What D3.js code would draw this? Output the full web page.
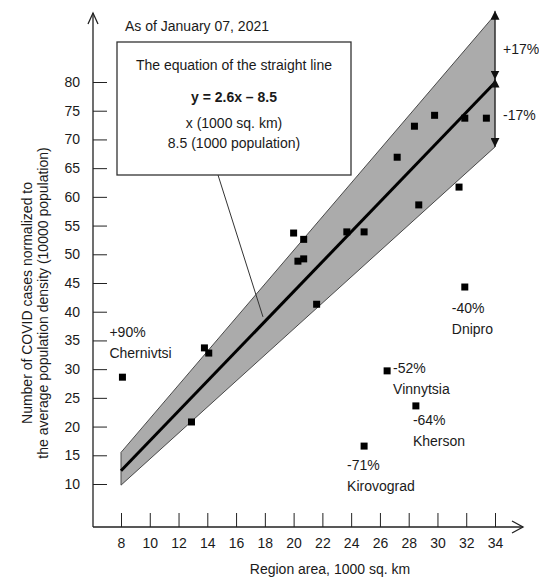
<!DOCTYPE html>
<html>
<head>
<meta charset="utf-8">
<script src="https://cdn.jsdelivr.net/npm/d3@7"></script>
<style>
  body { margin: 0; background: #fff; }
  text { font-family: "Liberation Sans", Arial, sans-serif; fill: #1a1a1a; }
</style>
</head>
<body>
<svg id="chart" width="539" height="583"></svg>
<script>
// Region area (1000 sq. km) and normalized COVID cases, one entry per region
const areas = [8.1, 12.9, 13.8, 14.1, 20.0, 20.7, 20.3, 20.7, 21.6, 23.7, 24.9,
  24.9, 26.5, 27.2, 28.4, 28.5, 28.7, 29.8, 31.5, 31.9, 31.9, 33.4];
const cases = [28.6, 20.8, 33.7, 32.8, 53.7, 52.6, 48.8, 49.2, 41.3, 53.9, 53.9,
  16.6, 29.7, 66.9, 72.3, 23.6, 58.6, 74.2, 61.7, 73.7, 44.3, 73.7];

// Labelled outliers (index into the arrays above)
const labelIndex = [0, 20, 12, 15, 11];
const labelPct = ['+90%', '-40%', '-52%', '-64%', '-71%'];
const labelName = ['Chernivtsi', 'Dnipro', 'Vinnytsia', 'Kherson', 'Kirovograd'];

// Fitted line y = 2.6x - 8.5 and the +-17% corridor
const slope = 2.6;
const intercept = -8.5;
const bandX = [8, 34];
const bandUpper = [15.5, 91.7];
const bandLower = [9.8, 68.7];
const bandPct = ['+17%', '-17%'];

const xTicks = [8, 10, 12, 14, 16, 18, 20, 22, 24, 26, 28, 30, 32, 34];
const yTicks = [10, 15, 20, 25, 30, 35, 40, 45, 50, 55, 60, 65, 70, 75, 80];

const svg = d3.select('#chart');

const frame = { left: 93, bottom: 527, top: 13, right: 523 };

const x = d3.scaleLinear().domain([8, 34]).range([121, 495]);
const y = d3.scaleLinear().domain([10, 80]).range([484, 82]);

// label offsets (pixels from the point)
const labelOffset = [
  { dx: -13, dy: -40 },
  { dx: -13, dy: 26 },
  { dx: 6, dy: 2 },
  { dx: -3, dy: 19 },
  { dx: -17, dy: 24 }
];

// arrow marker
const defs = svg.append('defs');
defs.append('marker')
  .attr('id', 'tri')
  .attr('viewBox', '0 0 10 10')
  .attr('refX', 10)
  .attr('refY', 5)
  .attr('markerWidth', 9)
  .attr('markerHeight', 9)
  .attr('markerUnits', 'userSpaceOnUse')
  .attr('orient', 'auto-start-reverse')
  .append('path')
  .attr('d', 'M0,0L10,5L0,10Z')
  .attr('fill', '#111');

// Corridor
const bandPts = [
  [x(bandX[0]), y(bandUpper[0])],
  [x(bandX[1]), y(bandUpper[1])],
  [x(bandX[1]), y(bandLower[1])],
  [x(bandX[0]), y(bandLower[0])]
];
svg.append('polygon')
  .attr('points', bandPts.map(p => p.join(',')).join(' '))
  .attr('fill', '#ababab')
  .attr('stroke', '#4a4a4a')
  .attr('stroke-width', 1);

// Fitted line
svg.append('line')
  .attr('x1', x(bandX[0])).attr('y1', y(slope * bandX[0] + intercept))
  .attr('x2', x(bandX[1])).attr('y2', y(slope * bandX[1] + intercept))
  .attr('stroke', '#000')
  .attr('stroke-width', 3);

// Corridor arrows
const xr = x(bandX[1]);
const yMid = y(slope * bandX[1] + intercept);
const arrows = [[y(bandUpper[1]), yMid], [yMid, y(bandLower[1])]];
arrows.forEach((a, i) => {
  svg.append('line')
    .attr('x1', xr).attr('y1', a[0] - 4)
    .attr('x2', xr).attr('y2', a[1] + (i === 0 ? -3 : 0))
    .attr('stroke', '#222')
    .attr('stroke-width', 1)
    .attr('marker-start', 'url(#tri)')
    .attr('marker-end', 'url(#tri)');
  svg.append('text')
    .attr('x', xr + 8)
    .attr('y', (a[0] + a[1]) / 2)
    .attr('dy', '0.35em')
    .style('font-size', '14px')
    .text(bandPct[i]);
});

// Axes
const yAxis = svg.append('g')
  .attr('transform', `translate(${frame.left},0)`)
  .call(d3.axisLeft(y).tickValues(yTicks).tickSize(-14).tickPadding(13))
  .call(g => g.select('.domain').remove());
yAxis.selectAll('.tick line').attr('stroke', '#222');
yAxis.selectAll('.tick text')
  .style('font-size', '14px')
  .style('font-family', '"Liberation Sans", Arial, sans-serif')
  .attr('fill', '#1a1a1a');

const xAxis = svg.append('g')
  .attr('transform', `translate(0,${frame.bottom})`)
  .call(d3.axisBottom(x).tickValues(xTicks).tickSize(-14).tickPadding(11))
  .call(g => g.select('.domain').remove());
xAxis.selectAll('.tick line').attr('stroke', '#222');
xAxis.selectAll('.tick text')
  .style('font-size', '14px')
  .style('font-family', '"Liberation Sans", Arial, sans-serif')
  .attr('fill', '#1a1a1a');

svg.append('path')
  .attr('d', `M${frame.left},${frame.bottom}V${frame.top}M${frame.left},${frame.bottom}H${frame.right}`)
  .attr('fill', 'none')
  .attr('stroke', '#222')
  .attr('stroke-width', 1.3);
svg.append('path')
  .attr('d', `M${frame.left - 5},${frame.top + 11}L${frame.left},${frame.top}L${frame.left + 5},${frame.top + 11}` +
    `M${frame.right - 11},${frame.bottom - 6}L${frame.right},${frame.bottom}L${frame.right - 11},${frame.bottom + 6}`)
  .attr('fill', 'none')
  .attr('stroke', '#222')
  .attr('stroke-width', 1.3);

// Axis titles
svg.append('text')
  .attr('x', 330)
  .attr('y', 574)
  .attr('text-anchor', 'middle')
  .style('font-size', '14px')
  .text('Region area, 1000 sq. km');

const yTitle = svg.append('text')
  .attr('transform', 'translate(32,303) rotate(-90)')
  .attr('text-anchor', 'middle')
  .style('font-size', '14px');
yTitle.append('tspan').attr('x', 0).attr('dy', 0).text('Number of COVID cases normalized to');
yTitle.append('tspan').attr('x', 0).attr('dy', 16).text('the average population density (10000 population)');

// Points
svg.append('g')
  .selectAll('rect')
  .data(areas.map((a, i) => ({ a, c: cases[i] })))
  .join('rect')
  .attr('x', d => x(d.a) - 3.5)
  .attr('y', d => y(d.c) - 3.5)
  .attr('width', 7)
  .attr('height', 7)
  .attr('fill', '#000');

// Outlier labels
labelIndex.forEach((idx, i) => {
  const px = x(areas[idx]) + labelOffset[i].dx;
  const py = y(cases[idx]) + labelOffset[i].dy;
  svg.append('text').attr('x', px).attr('y', py)
    .style('font-size', '14px').text(labelPct[i]);
  svg.append('text').attr('x', px).attr('y', py + 21)
    .style('font-size', '14px').text(labelName[i]);
});

// Date and equation box
svg.append('text')
  .attr('x', 125)
  .attr('y', 31)
  .style('font-size', '14px')
  .text('As of January 07, 2021');

const box = { x: 117, y: 42, w: 234, h: 133 };

// leader line from box to fitted line
svg.append('line')
  .attr('x1', 218).attr('y1', box.y + box.h)
  .attr('x2', x(17.87)).attr('y2', y(39.1))
  .attr('stroke', '#333')
  .attr('stroke-width', 1);

svg.append('rect')
  .attr('x', box.x).attr('y', box.y)
  .attr('width', box.w).attr('height', box.h)
  .attr('fill', '#fff')
  .attr('stroke', '#333')
  .attr('stroke-width', 1.3);

const cx = box.x + box.w / 2;
const boxLines = [
  { t: 'The equation of the straight line', y: 70, bold: false },
  { t: 'y = 2.6x \u2013 8.5', y: 102, bold: true },
  { t: 'x (1000 sq. km)', y: 128, bold: false },
  { t: '8.5 (1000 population)', y: 148, bold: false }
];
boxLines.forEach(l => {
  svg.append('text')
    .attr('x', cx)
    .attr('y', l.y)
    .attr('text-anchor', 'middle')
    .style('font-size', '14px')
    .style('font-weight', l.bold ? 'bold' : 'normal')
    .text(l.t);
});
</script>
</body>
</html>
